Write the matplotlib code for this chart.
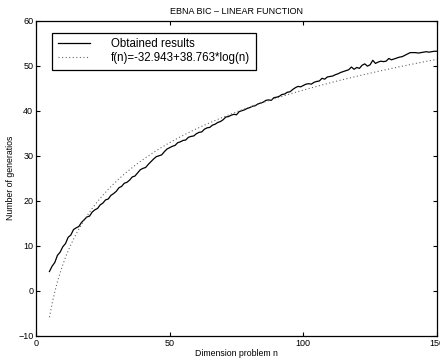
import numpy as np
import matplotlib
matplotlib.use('Agg')
import matplotlib.pyplot as plt

plt.rcParams['font.family'] = ['Liberation Sans', 'DejaVu Sans']

# dimension of the problem n = 5..150
n = list(range(5, 151))

# obtained number of generations
generations = [
    4.3, 5.5, 6.3, 7.9, 8.6, 9.8, 10.5, 11.9, 12.4, 13.6,
    14.0, 14.3, 15.2, 15.8, 16.4, 16.6, 17.5, 18.0, 18.3, 19.1,
    19.5, 20.2, 20.4, 21.2, 21.6, 22.1, 22.9, 23.2, 23.9, 24.1,
    24.6, 25.3, 25.5, 26.2, 26.9, 27.2, 27.4, 28.1, 28.7, 29.3,
    29.8, 30.0, 30.2, 30.9, 31.5, 31.8, 32.1, 32.3, 32.9, 33.1,
    33.4, 33.5, 34.1, 34.3, 34.4, 34.9, 35.2, 35.3, 35.9, 36.2,
    36.3, 36.8, 37.0, 37.4, 37.6, 38.0, 38.6, 38.7, 39.0, 39.2,
    39.1, 39.8, 40.0, 40.2, 40.5, 40.7, 41.0, 41.1, 41.5, 41.7,
    41.9, 42.3, 42.4, 42.3, 42.9, 43.0, 43.2, 43.6, 43.7, 44.1,
    44.2, 44.7, 45.1, 45.4, 45.3, 45.6, 45.9, 46.0, 45.9, 46.3,
    46.5, 46.6, 47.2, 47.0, 47.5, 47.6, 47.7, 48.0, 48.2, 48.5,
    48.7, 48.9, 49.1, 49.7, 49.2, 49.6, 49.4, 50.1, 50.4, 49.9,
    50.2, 51.2, 50.5, 50.8, 51.0, 50.9, 51.0, 51.6, 51.3, 51.5,
    51.7, 51.9, 52.0, 52.3, 52.6, 52.9, 52.9, 52.9, 52.8, 52.9,
    53.0, 53.1, 53.0, 53.1, 53.2, 53.2,
]

# fitted curve coefficients from the legend
a = -32.943
b = 38.763
fit = a + b * np.log10(np.array(n))

fig = plt.figure(figsize=(4.4, 3.62), dpi=100)
ax = fig.add_axes([0.082, 0.072, 0.911, 0.871])

ax.plot(n, generations, color='black', linewidth=0.9, label='Obtained results')
ax.plot(n, fit, color='0.4', linestyle=(0, (1, 2.2)), linewidth=0.8,
        label='f(n)=-32.943+38.763*log(n)')

ax.set_xlim(0, 150)
ax.set_ylim(-10, 60)
ax.set_xticks([0, 50, 100, 150])
ax.set_yticks(range(-10, 61, 10))
ax.tick_params(direction='in', length=3, width=0.8, labelsize=6.5,
               top=True, right=True, pad=2)
for s in ax.spines.values():
    s.set_linewidth(0.9)

ax.set_title('EBNA BIC \u2013 LINEAR FUNCTION', fontsize=6.5, pad=5)
ax.set_xlabel('Dimension problem n', fontsize=6.3, labelpad=1)
ax.set_ylabel('Number of generatios', fontsize=6.3, labelpad=2)

# легенда в стиле MATLAB
leg = ax.legend(loc='upper left', bbox_to_anchor=(0.04, 0.962), borderaxespad=0,
                fontsize=8.3, fancybox=False, edgecolor='black', framealpha=1,
                handlelength=2.8, handletextpad=1.8, labelspacing=0.15,
                borderpad=0.5)
leg.get_frame().set_linewidth(0.9)

plt.savefig('out.png', dpi=100)
